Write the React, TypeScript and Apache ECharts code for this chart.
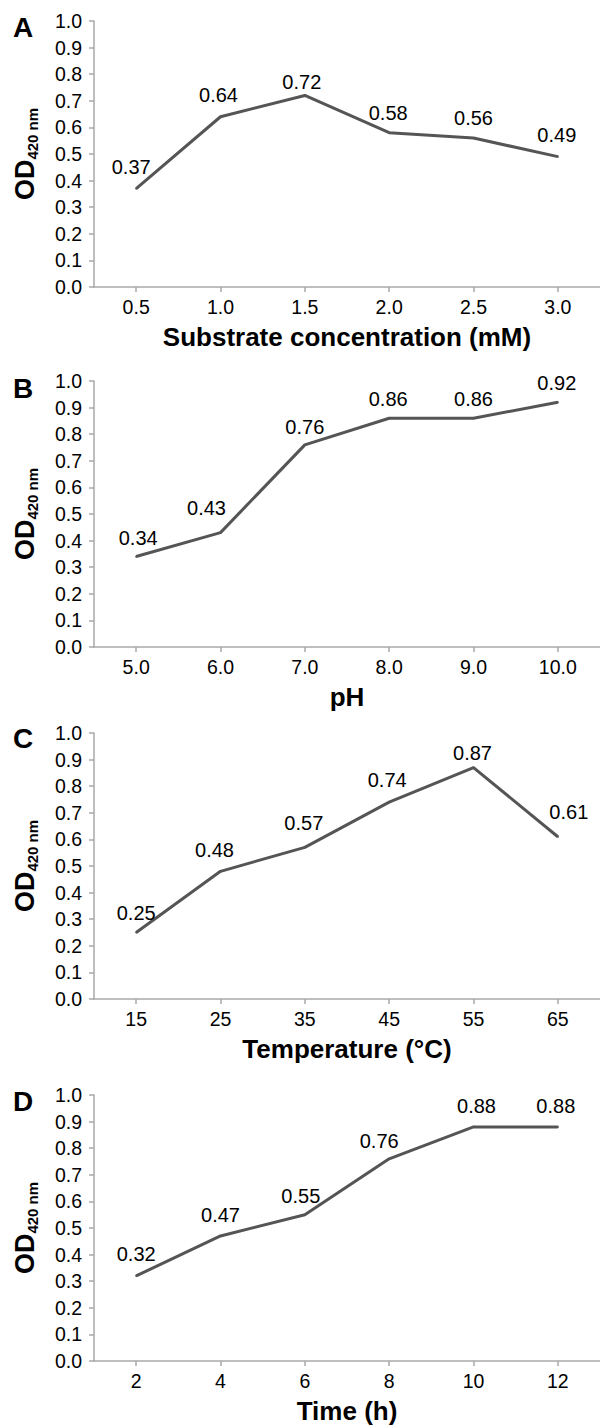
import React, { useEffect, useRef } from "react";
import * as echarts from "echarts";

// ---- data ----
const substrateCats = ["0.5", "1.0", "1.5", "2.0", "2.5", "3.0"];
const substrateOD = [0.37, 0.64, 0.72, 0.58, 0.56, 0.49];

const phCats = ["5.0", "6.0", "7.0", "8.0", "9.0", "10.0"];
const phOD = [0.34, 0.43, 0.76, 0.86, 0.86, 0.92];

const tempCats = ["15", "25", "35", "45", "55", "65"];
const tempOD = [0.25, 0.48, 0.57, 0.74, 0.87, 0.61];

const timeCats = ["2", "4", "6", "8", "10", "12"];
const timeOD = [0.32, 0.47, 0.55, 0.76, 0.88, 0.88];

const panelLetters = ["A", "B", "C", "D"];
const xTitles = ["Substrate concentration (mM)", "pH", "Temperature (°C)", "Time (h)"];

// ---- layout / style (kept apart from data) ----
const gridTops = [21, 381, 733, 1095];
const gridHeight = 266;
const letterY = [27, 388, 738, 1101];
const labelShifts = [
  [[-5, -2], [-2, -2], [-3, 7], [-1, 0], [0, 0], [-1, -2]],
  [[2, 1], [-14, -5], [0, 2], [-1, 1], [0, 1], [-1, 1]],
  [[0, 0], [-6, -1], [-1, -4], [-2, -2], [-1, 5], [11, -5]],
  [[0, -2], [0, -1], [-4, 1], [-10, 2], [3, -1], [-2, -1]],
];

const FONT = "'Liberation Sans', Arial, sans-serif";
const AXIS_COLOR = "#a9a9a9";
const LINE_COLOR = "#555555";

export default function App() {
  const ref = useRef<HTMLDivElement>(null);

  useEffect(() => {
    if (!ref.current) return;
    const chart = echarts.init(ref.current, undefined, { renderer: "svg" });
    const cats = [substrateCats, phCats, tempCats, timeCats];
    const vals = [substrateOD, phOD, tempOD, timeOD];

    const grids = gridTops.map((t) => ({ left: 94, right: 0, top: t, height: gridHeight }));

    const xAxes = cats.map((c, i) => ({
      type: "category",
      gridIndex: i,
      data: c,
      boundaryGap: true,
      axisLine: { show: true, lineStyle: { color: AXIS_COLOR, width: 1.5 } },
      axisTick: { show: true, alignWithLabel: true, length: 5, lineStyle: { color: AXIS_COLOR, width: 1.5 } },
      axisLabel: { color: "#000", fontSize: 19.5, fontFamily: FONT, margin: 10 },
      name: xTitles[i],
      nameLocation: "middle",
      nameGap: 37,
      nameTextStyle: { color: "#000", fontSize: 26, fontWeight: "bold", fontFamily: FONT },
      splitLine: { show: false },
    }));

    const yAxes = cats.map((_, i) => ({
      type: "value",
      gridIndex: i,
      min: 0,
      max: 1,
      interval: 0.1,
      axisLine: { show: true, lineStyle: { color: AXIS_COLOR, width: 1.5 } },
      axisTick: { show: true, length: 5, lineStyle: { color: AXIS_COLOR, width: 1.5 } },
      axisLabel: {
        color: "#000",
        fontSize: 19.5,
        fontFamily: FONT,
        margin: 12,
        formatter: (v: number) => v.toFixed(1),
      },
      splitLine: { show: false },
      name: "{o|OD}{s|420 nm}",
      nameLocation: "middle",
      nameRotate: 90,
      nameGap: 54,
      nameTextStyle: {
        color: "#000",
        fontFamily: FONT,
        rich: {
          o: { fontSize: 27, fontWeight: "bold", fontFamily: FONT, color: "#000", lineHeight: 30 },
          s: { fontSize: 15, fontWeight: "bold", fontFamily: FONT, color: "#000", lineHeight: 6, verticalAlign: "bottom" },
        },
      },
    }));

    const series = vals.map((v, i) => ({
      type: "line",
      xAxisIndex: i,
      yAxisIndex: i,
      symbol: "circle",
      symbolSize: 2,
      showSymbol: true,
      itemStyle: { color: LINE_COLOR },
      lineStyle: { color: LINE_COLOR, width: 3 },
      data: v.map((val, j) => ({
        value: val,
        label: { offset: labelShifts[i][j] },
      })),
      label: {
        show: true,
        position: "top",
        distance: 9,
        color: "#000",
        fontSize: 20,
        fontFamily: FONT,
        formatter: (p: any) => Number(p.value).toFixed(2),
      },
    }));

    const graphic = panelLetters.map((l, i) => ({
      type: "text",
      x: 23,
      y: letterY[i],
      style: {
        text: l,
        fontSize: 28,
        fontWeight: "bold",
        fontFamily: FONT,
        fill: "#000",
        align: "center",
        verticalAlign: "middle",
      },
    }));

    chart.setOption({
      animation: false,
      backgroundColor: "#ffffff",
      grid: grids,
      xAxis: xAxes,
      yAxis: yAxes,
      series,
      graphic,
    } as any);

    return () => chart.dispose();
  }, []);

  return (
    <div
      ref={ref}
      style={{ position: "absolute", left: 0, top: 0, width: 600, height: 1427, background: "#fff" }}
    />
  );
}
